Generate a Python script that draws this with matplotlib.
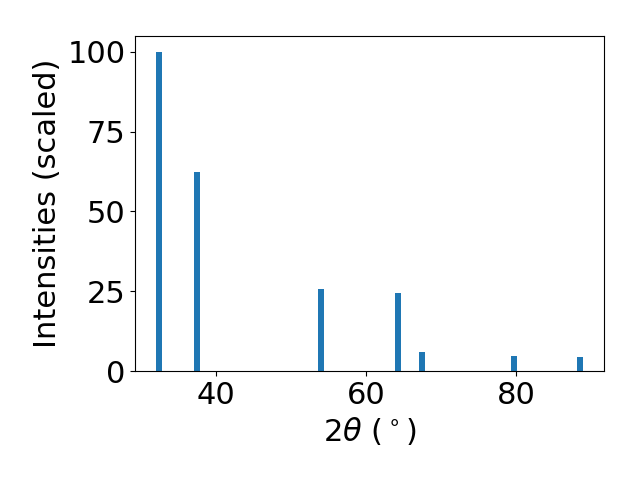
import matplotlib.pyplot as plt

two_theta = [32.4, 37.45, 53.95, 64.3, 67.45, 79.7, 88.55]
intensity = [100, 62.4, 25.7, 24.5, 6.0, 4.7, 4.4]

plt.rcParams["font.size"] = 22
fig, ax = plt.subplots(figsize=(6.4, 4.8), dpi=100)

ax.bar(two_theta, intensity, width=0.8)
ax.set_xlabel(r"$2\theta$ ($^\circ$)")
ax.set_ylabel("Intensities (scaled)")
ax.set_yticks([0, 25, 50, 75, 100])

fig.subplots_adjust(left=0.211, right=0.944, top=0.925, bottom=0.227)
fig.savefig("out.png")
